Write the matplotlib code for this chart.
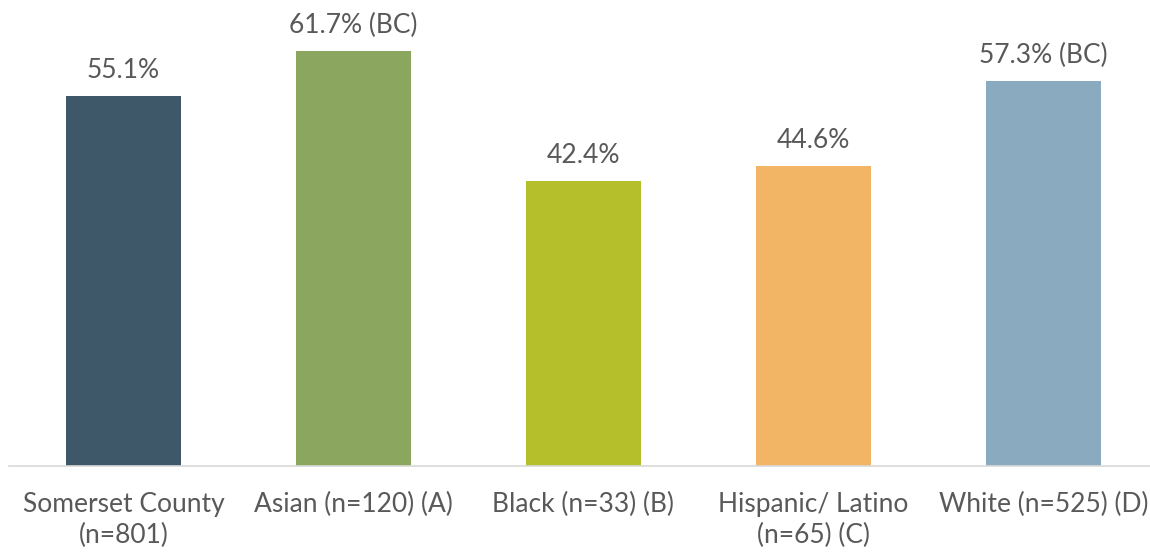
import matplotlib
matplotlib.use("Agg")
import matplotlib.pyplot as plt

categories = ["Somerset County\n(n=801)", "Asian (n=120) (A)", "Black (n=33) (B)",
              "Hispanic/ Latino\n(n=65) (C)", "White (n=525) (D)"]
values = [55.1, 61.7, 42.4, 44.6, 57.3]
labels = ["55.1%", "61.7% (BC)", "42.4%", "44.6%", "57.3% (BC)"]
colors = ["#3E5769", "#8BA65E", "#B5BF2C", "#F2B465", "#8AAABF"]

plt.rcParams['font.family'] = ['Lato', 'DejaVu Sans']
txt = "#595959"

fig = plt.figure(figsize=(11.5, 5.58), dpi=100)
ax = fig.add_axes([8.5/1150, 92/558, 1.0, 466/558])

x = list(range(len(values)))
ax.bar(x, values, width=0.5, color=colors)
for i in x:
    ax.annotate(labels[i], (i, values[i]), xytext=(0, 13), textcoords="offset points",
                ha="center", va="baseline", fontsize=19, color=txt)

ax.set_xlim(-0.5, 4.5)
ax.set_ylim(0, 466/6.72)
ax.set_xticks(x)
ax.set_xticklabels(categories, fontsize=19, color=txt, linespacing=1.3)
ax.tick_params(axis='x', length=0, pad=19)
ax.set_yticks([])
for s in ["top", "right", "left"]:
    ax.spines[s].set_visible(False)
ax.spines["bottom"].set_color("#D9D9D9")
ax.spines["bottom"].set_linewidth(1.2)

fig.savefig("out.png", dpi=100)
